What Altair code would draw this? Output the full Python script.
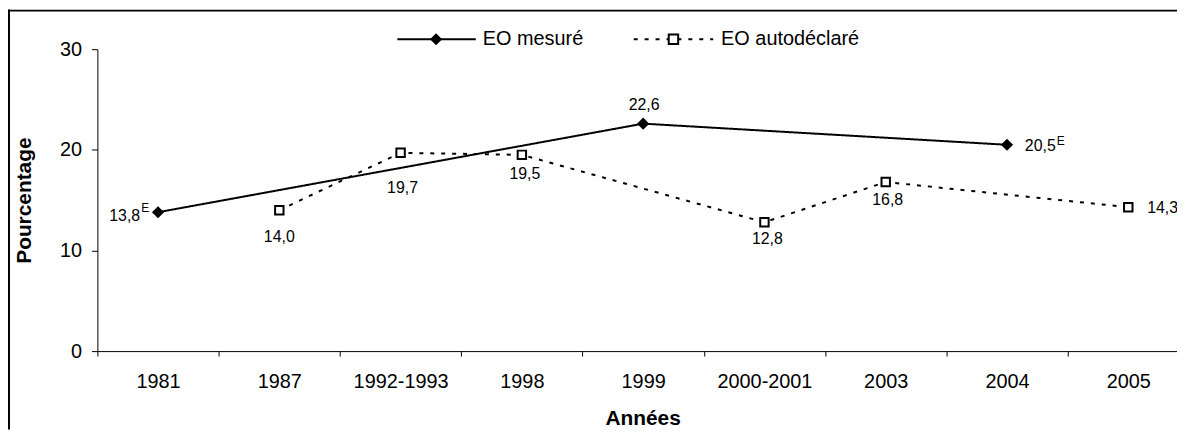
import altair as alt
import pandas as pd

FONT = "Liberation Sans"

# ---- data -------------------------------------------------------------
YEARS = ["1981", "1987", "1992-1993", "1998", "1999", "2000-2001", "2003", "2004", "2005"]
SERIES = ["EO mesuré", "EO autodéclaré"]
MESURE = [13.8, None, None, None, 22.6, None, None, 20.5, None]
MESURE_FLAG = ["E", "", "", "", "", "", "", "E", ""]
AUTO = [None, 14.0, 19.7, 19.5, None, 12.8, 16.8, None, 14.3]
AUTO_FLAG = ["", "", "", "", "", "", "", "", ""]

rows = []
for name, vals, flags in [(SERIES[0], MESURE, MESURE_FLAG), (SERIES[1], AUTO, AUTO_FLAG)]:
    for i, (yr, v, f) in enumerate(zip(YEARS, vals, flags)):
        if v is None:
            continue
        rows.append({
            "annee": yr, "idx": i, "serie": name, "valeur": v,
            "texte": f"{v:.1f}".replace(".", ","), "flag": f, "cle": f"{name}|{yr}",
        })
df = pd.DataFrame(rows)
legend_df = pd.DataFrame({"serie": SERIES})

# label placement (align, dx, dy) - styling only
PLACE = {
    "EO mesuré|1981": ("right", -18, 4),
    "EO mesuré|1999": ("center", 1, -19),
    "EO mesuré|2004": ("left", 18, 1),
    "EO autodéclaré|1987": ("center", 0, 27),
    "EO autodéclaré|1992-1993": ("center", 2, 35),
    "EO autodéclaré|1998": ("center", 3, 19),
    "EO autodéclaré|2000-2001": ("center", 3, 17),
    "EO autodéclaré|2003": ("center", 2, 18),
    "EO autodéclaré|2005": ("left", 19, 1),
}
FLAG_PLACE = {
    "EO mesuré|1981": ("right", -9, -4),
    "EO mesuré|2004": ("left", 50, -4),
}

# ---- encodings --------------------------------------------------------
x_enc = alt.X(
    "annee:N", sort=YEARS,
    scale=alt.Scale(type="band", domain=YEARS, rangeMin=0, rangeMax=1099,
                    paddingInner=0, paddingOuter=0),
    axis=alt.Axis(title="Années", labelAngle=0, tickBand="extent", tickSize=5,
                  labelPadding=16, labelFontSize=20, titleFontSize=21,
                  titleFontWeight="bold", titleX=549, titleY=68,
                  titleBaseline="middle", titleAlign="center", labelOverlap=False),
)
y_enc = alt.Y(
    "valeur:Q", scale=alt.Scale(domain=[0, 30]),
    axis=alt.Axis(title="Pourcentage", values=[0, 10, 20, 30], tickSize=6,
                  labelPadding=10, labelFontSize=20, titleFontSize=21,
                  titleFontWeight="bold", titleX=-73, titleY=152, titleAngle=270,
                  titleBaseline="middle", titleAlign="center"),
)

base = alt.Chart(df)

lines = base.mark_line(strokeWidth=2, color="black").encode(
    x=x_enc, y=y_enc,
    strokeDash=alt.StrokeDash("serie:N", scale=alt.Scale(domain=SERIES, range=[[1, 0], [4, 7]]),
                              legend=None),
    order=alt.Order("idx:Q"),
)

pts_m = base.transform_filter(alt.datum.serie == SERIES[0]).mark_point(
    shape="diamond", filled=True, fill="black", strokeWidth=0, size=150, opacity=1
).encode(x=x_enc, y=y_enc)

pts_a = base.transform_filter(alt.datum.serie == SERIES[1]).mark_point(
    shape="square", filled=True, fill="white", stroke="black", strokeWidth=2, size=72, opacity=1
).encode(x=x_enc, y=y_enc)

layers = [lines, pts_m, pts_a]
for key, (al, dx, dy) in PLACE.items():
    layers.append(
        base.transform_filter(alt.datum.cle == key).mark_text(
            align=al, baseline="middle", dx=dx, dy=dy, fontSize=16, font=FONT, color="black"
        ).encode(x=x_enc, y=y_enc, text="texte:N")
    )
for key, (al, dx, dy) in FLAG_PLACE.items():
    layers.append(
        base.transform_filter(alt.datum.cle == key).mark_text(
            align=al, baseline="middle", dx=dx, dy=dy, fontSize=12, font=FONT, color="black"
        ).encode(x=x_enc, y=y_enc, text="flag:N")
    )

# ---- legend (line sample + marker + label, above the plot) -----------
LEG_Y = -10
lg = alt.Chart(legend_df)
leg_m = lg.transform_filter(alt.datum.serie == SERIES[0])
leg_a = lg.transform_filter(alt.datum.serie == SERIES[1])
layers += [
    leg_m.mark_rule(color="black", strokeWidth=2).encode(
        x=alt.value(302), x2=alt.value(381), y=alt.value(LEG_Y)),
    leg_m.mark_point(shape="diamond", filled=True, fill="black", strokeWidth=0, size=150, opacity=1).encode(
        x=alt.value(341), y=alt.value(LEG_Y)),
    leg_m.mark_text(align="left", baseline="middle", fontSize=20, font=FONT, color="black").encode(
        x=alt.value(388), y=alt.value(LEG_Y), text="serie:N"),
    leg_a.mark_rule(color="black", strokeWidth=2, strokeDash=[4, 7]).encode(
        x=alt.value(540), x2=alt.value(620), y=alt.value(LEG_Y)),
    leg_a.mark_point(shape="square", filled=True, fill="white", stroke="black", strokeWidth=2,
                     size=90, opacity=1).encode(x=alt.value(580), y=alt.value(LEG_Y)),
    leg_a.mark_text(align="left", baseline="middle", fontSize=20, font=FONT, color="black").encode(
        x=alt.value(628), y=alt.value(LEG_Y), text="serie:N"),
]

# ---- outer frame (top and left edges visible) ---------------------------
frame_df = pd.DataFrame({"k": [0]})
layers += [
    alt.Chart(frame_df).mark_rule(color="black", strokeWidth=1.6).encode(
        x=alt.value(-90), x2=alt.value(1087), y=alt.value(-38.8)),
    alt.Chart(frame_df).mark_rule(color="black", strokeWidth=2).encode(
        x=alt.value(-89), y=alt.value(-40), y2=alt.value(383)),
]

chart = alt.layer(*layers).properties(
    width=1087, height=304,
    autosize=alt.AutoSizeParams(type="none"),
    padding={"left": 90, "top": 40, "right": 0, "bottom": 79},
    background="white",
).configure_view(strokeWidth=0).configure_axis(
    grid=False, domainColor="black", tickColor="black", labelColor="black",
    titleColor="black", labelFont=FONT, titleFont=FONT, domainWidth=1, tickWidth=1,
)

chart.save("out.html", embed_options={"renderer": "svg", "actions": False})
